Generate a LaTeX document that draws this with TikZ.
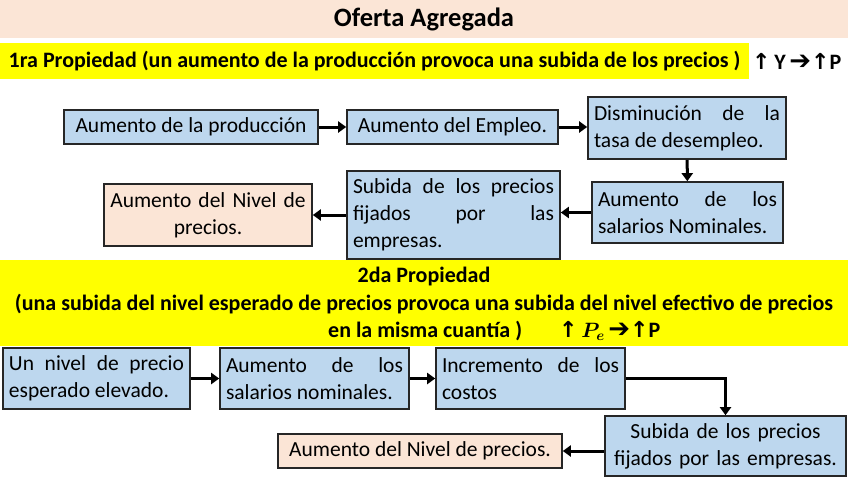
\documentclass[tikz,border=0pt]{standalone}
\usepackage{amsmath}
\usepackage{fontspec}
\setmainfont{Carlito}
\newfontfamily\flechas{DejaVu Sans}
\usetikzlibrary{arrows.meta}
\definecolor{azulcaja}{HTML}{BDD7EE}
\definecolor{salmon}{HTML}{FBE5D6}
\definecolor{amarillo}{HTML}{FFFF00}
\hyphenpenalty=10000
\hbadness=10000

\begin{document}
\begin{tikzpicture}[x=1pt, y=-1pt,
                    caja/.style={draw=black!85, line width=1.6pt, fill=azulcaja,
                                 inner xsep=6pt, inner ysep=0pt,
                                 font=\fontsize{21.5}{27}\selectfont},
                    cajafin/.style={caja, fill=salmon},
                    banda/.style={fill=amarillo, inner sep=0pt},
                    negrita/.style={font=\bfseries\fontsize{22}{26}\selectfont, inner sep=0pt},
                    flecha/.style={line width=3pt, -{Triangle[length=8pt,width=11pt]}}]
\useasboundingbox (0,0) rectangle (848,477);

% cabecera
\node[fill=salmon, minimum width=848pt, minimum height=38pt, inner sep=0pt,
      font=\bfseries\fontsize{26.5}{30}\selectfont] (titulo) at (424,19) {Oferta Agregada};

% primera propiedad
\node[banda, negrita, minimum width=749pt, minimum height=36pt] (prop1) at (374.5,61)
 {1ra Propiedad (un aumento de la producción provoca una subida de los precios )};
\node[negrita, anchor=west] (flechas1) at (752,61)
 {{\flechas↑}\,Y\,{\flechas\fontsize{26}{26}\selectfont➔}{\flechas↑}P};

\node[caja, minimum width=254pt, minimum height=34pt] (produccion) at (191,127)
 {Aumento de la producción};
\node[caja, minimum width=211pt, minimum height=34pt] (empleo) at (452.5,127)
 {Aumento del Empleo.};
\node[caja, text width=186pt, minimum height=62pt, align=justify] (desempleo) at (687,128)
 {Disminución de la\linebreak tasa de desempleo.};
\node[caja, text width=179pt, minimum height=61pt, align=justify] (salarios1) at (687.5,212.5)
 {Aumento de los\linebreak salarios Nominales.};
\node[caja, text width=201pt, minimum height=88pt, align=justify] (subida1) at (453.5,215)
 {Subida de los precios\linebreak fijados por las\linebreak empresas.};
\node[cajafin, text width=202pt, inner xsep=3pt, minimum height=62pt, align=center] (nivel1) at (208,215)
 {Aumento del Nivel de\\ precios.};

\draw[flecha] (produccion) -- (empleo);
\draw[flecha] (empleo.east) -- (empleo.east -| desempleo.west);
\draw[flecha] (desempleo) -- (salarios1);
\draw[flecha] (salarios1.west) -- (salarios1.west -| subida1.east);
\draw[flecha] (subida1.west) -- (subida1.west -| nivel1.east);

% segunda propiedad
\node[banda, minimum width=848pt, minimum height=86pt] (prop2) at (424,303) {};
\node[negrita] (prop2a) at (424,277) {2da Propiedad};
\node[negrita] (prop2b) at (424,304)
 {(una subida del nivel esperado de precios provoca una subida del nivel efectivo de precios};
\node[negrita, anchor=west] (prop2c) at (328,331) {en la misma cuantía )};
\node[negrita, anchor=west] (flechas2) at (559,331)
 {{\flechas↑}\,{\boldmath$P_e$}\,{\flechas\fontsize{26}{26}\selectfont➔}{\flechas↑}P};

\node[caja, text width=175pt, minimum height=61pt, align=justify] (esperado) at (96.5,378.5)
 {Un nivel de precio\linebreak esperado elevado.};
\node[caja, text width=177pt, minimum height=61pt, align=justify] (salarios2) at (314.5,378.5)
 {Aumento de los\linebreak salarios nominales.};
\node[caja, text width=177pt, minimum height=61pt, align=justify] (costos) at (530.5,378.5)
 {Incremento de los\linebreak costos};
\node[caja, text width=235pt, inner xsep=3pt, minimum height=60pt, align=center] (subida2) at (725.5,446)
 {Subida de los precios\\ fijados por las empresas.};
\node[cajafin, minimum width=284pt, minimum height=34pt] (nivel2) at (420,451)
 {Aumento del Nivel de precios.};

\draw[flecha] (esperado) -- (salarios2);
\draw[flecha] (salarios2) -- (costos);
\draw[flecha] (costos.east) -| (subida2.north);
\draw[flecha] (nivel2.east -| subida2.west) -- (nivel2.east);
\end{tikzpicture}
\end{document}
